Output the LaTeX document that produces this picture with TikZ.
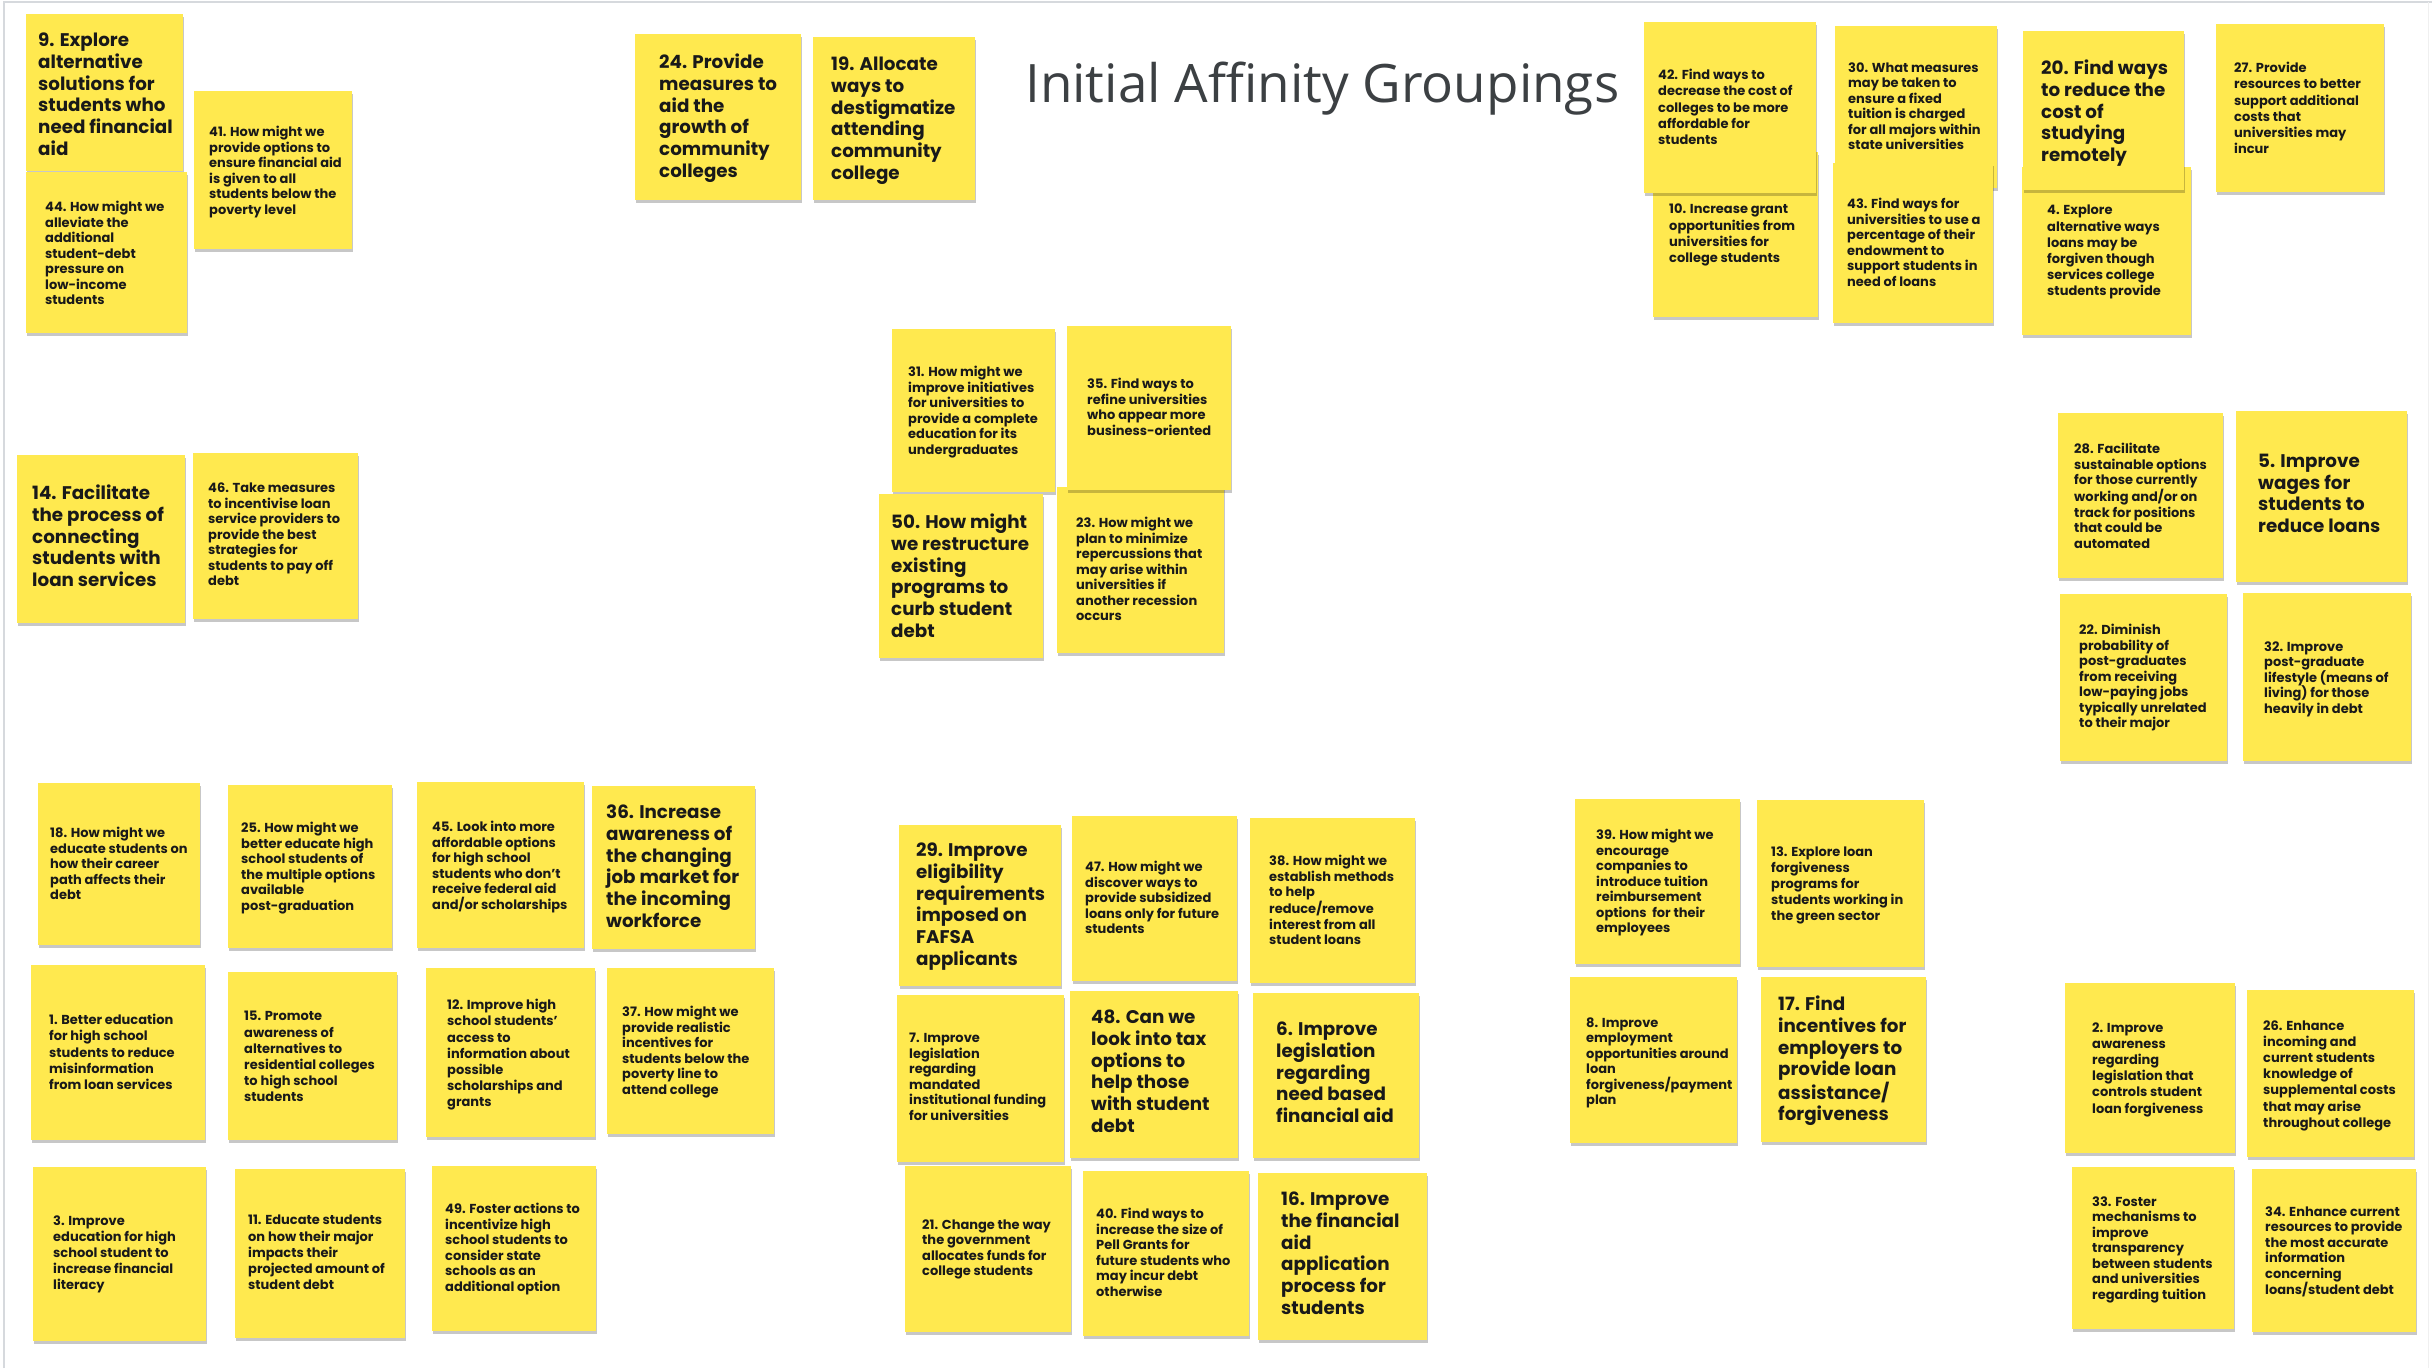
\documentclass[tikz,border=0pt]{standalone}
\usepackage{fontspec}
\setmainfont{Poppins}
\newfontfamily\titlefont{Open Sans}
\usetikzlibrary{shadows}
\definecolor{noteyellow}{HTML}{FFE94F}
\definecolor{titlegray}{HTML}{3C4043}
\definecolor{framegray}{HTML}{D6D9DD}
\tikzset{
 notebox/.style={rectangle, fill=noteyellow, inner sep=0pt, draw=none,
   drop shadow={shadow xshift=0.8pt, shadow yshift=-2.5pt, opacity=0.22, fill=black}},
 stxt/.style={inner sep=0pt, align=left, text=black!90, font=\fontsize{13}{15.5}\selectfont\bfseries, yshift=5.9pt},
 stxtw/.style={stxt, font=\fontsize{13}{16.2}\selectfont\bfseries},
 ltxt/.style={inner sep=0pt, align=left, text=black!90, font=\fontsize{18.3}{21.7}\selectfont\bfseries, yshift=8.2pt},
}
% #1 name, #2 x1, #3 y1, #4 x2, #5 y2, #6 text x, #7 first line centre y, #8 text style, #9 text
\newcommand{\stickynote}[9]{%
  \node[notebox, minimum width={#4-#2}, minimum height={#5-#3}] (#1) at ({(#2+#4)/2},{(#3+#5)/2}) {};
  \node[#8, anchor=north west] (#1t) at (#6,#7) {#9};
}
\begin{document}
\begin{tikzpicture}[x=1pt,y=-1pt]
\useasboundingbox (0,0) rectangle (2432,1368);
\fill[white] (0,0) rectangle (2432,1368);
\draw[framegray, line width=2pt] (4,1368) -- (4,1.5) -- (2432,1.5);
\draw[black!6, line width=1pt] (2428,1.5) -- (2428,1368);

\node[font=\fontsize{53}{60}\selectfont\titlefont, text=titlegray, anchor=base west, inner sep=0pt] (title) at (1025,102) {Initial Affinity Groupings};

% top left
\stickynote{n9}{26}{14}{183}{171}{38}{41}{ltxt}{9. Explore\\alternative\\solutions for\\students who\\need financial\\aid}
\stickynote{n44}{26}{172}{187}{333}{45}{207}{stxt}{44. How might we\\alleviate the\\additional\\student-debt\\pressure on\\low-income\\students}
\stickynote{n41}{194}{91}{352}{249}{209}{132}{stxt}{41. How might we\\provide options to\\ensure financial aid\\is given to all\\students below the\\poverty level}

% top middle
\stickynote{n24}{635}{34}{801}{200}{659}{62}{ltxt}{24. Provide\\measures to\\aid the\\growth of\\community\\colleges}
\stickynote{n19}{813}{37}{975}{200}{831}{65}{ltxt}{19. Allocate\\ways to\\destigmatize\\attending\\community\\college}

% top right
\stickynote{n10}{1653}{152}{1818}{317}{1669}{210}{stxtw}{10. Increase grant\\opportunities from\\universities for\\college students}
\stickynote{n42}{1644}{22}{1816}{193}{1658}{75}{stxtw}{42. Find ways to\\decrease the cost of\\colleges to be more\\affordable for\\students}
\stickynote{n30}{1835}{26}{1997}{188}{1848}{68}{stxt}{30. What measures\\may be taken to\\ensure a fixed\\tuition is charged\\for all majors within\\state universities}
\stickynote{n43}{1833}{163}{1993}{323}{1847}{204}{stxt}{43. Find ways for\\universities to use a\\percentage of their\\endowment to\\support students in\\need of loans}
\stickynote{n4}{2022}{167}{2191}{335}{2047}{211}{stxtw}{4. Explore\\alternative ways\\loans may be\\forgiven though\\services college\\students provide}
\stickynote{n20}{2023}{31}{2184}{190}{2041}{68}{ltxt}{20. Find ways\\to reduce the\\cost of\\studying\\remotely}
\stickynote{n27}{2216}{24}{2384}{192}{2234}{68}{stxtw}{27. Provide\\resources to better\\support additional\\costs that\\universities may\\incur}

% centre
\stickynote{n31}{892}{329}{1055}{492}{908}{372}{stxt}{31. How might we\\improve initiatives\\for universities to\\provide a complete\\education for its\\undergraduates}
\stickynote{n23}{1057}{487}{1224}{653}{1076}{523}{stxt}{23. How might we\\plan to minimize\\repercussions that\\may arise within\\universities if\\another recession\\occurs}
\stickynote{n35}{1067}{326}{1231}{490}{1087}{384}{stxt}{35. Find ways to\\refine universities\\who appear more\\business-oriented}
\stickynote{n50}{879}{494}{1043}{658}{891}{522}{ltxt}{50. How might\\we restructure\\existing\\programs to\\curb student\\debt}

% left middle
\stickynote{n14}{17}{455}{185}{623}{32}{493}{ltxt}{14. Facilitate\\the process of\\connecting\\students with\\loan services}
\stickynote{n46}{193}{453}{358}{619}{208}{489}{stxt}{46. Take measures\\to incentivise loan\\service providers to\\provide the best\\strategies for\\students to pay off\\debt}

% right middle
\stickynote{n28}{2058}{413}{2223}{578}{2074}{449}{stxt}{28. Facilitate\\sustainable options\\for those currently\\working and/or on\\track for positions\\that could be\\automated}
\stickynote{n5}{2236}{411}{2407}{582}{2258}{462}{ltxt}{5. Improve\\wages for\\students to\\reduce loans}
\stickynote{n22}{2060}{594}{2227}{761}{2079}{630}{stxt}{22. Diminish\\probability of\\post-graduates\\from receiving\\low-paying jobs\\typically unrelated\\to their major}
\stickynote{n32}{2243}{593}{2411}{761}{2264}{647}{stxt}{32. Improve\\post-graduate\\lifestyle (means of\\living) for those\\heavily in debt}

% bottom left
\stickynote{n18}{38}{783}{200}{945}{50}{833}{stxt}{18. How might we\\educate students on\\how their career\\path affects their\\debt}
\stickynote{n25}{228}{785}{392}{948}{241}{828}{stxt}{25. How might we\\better educate high\\school students of\\the multiple options\\available\\post-graduation}
\stickynote{n45}{417}{782}{584}{948}{432}{827}{stxt}{45. Look into more\\affordable options\\for high school\\students who don’t\\receive federal aid\\and/or scholarships}
\stickynote{n36}{592}{786}{755}{949}{606}{813}{ltxt}{36. Increase\\awareness of\\the changing\\job market for\\the incoming\\workforce}
\stickynote{n1}{31}{965}{205}{1140}{49}{1020}{stxtw}{1. Better education\\for high school\\students to reduce\\misinformation\\from loan services}
\stickynote{n15}{228}{972}{397}{1140}{244}{1017}{stxtw}{15. Promote\\awareness of\\alternatives to\\residential colleges\\to high school\\students}
\stickynote{n12}{426}{968}{595}{1137}{447}{1005}{stxtw}{12. Improve high\\school students’\\access to\\information about\\possible\\scholarships and\\grants}
\stickynote{n37}{607}{968}{774}{1134}{622}{1012}{stxt}{37. How might we\\provide realistic\\incentives for\\students below the\\poverty line to\\attend college}
\stickynote{n3}{33}{1167}{206}{1341}{53}{1221}{stxtw}{3. Improve\\education for high\\school student to\\increase financial\\literacy}
\stickynote{n11}{235}{1169}{405}{1338}{248}{1221}{stxtw}{11. Educate students\\on how their major\\impacts their\\projected amount of\\student debt}
\stickynote{n49}{432}{1166}{596}{1331}{445}{1209}{stxt}{49. Foster actions to\\incentivize high\\school students to\\consider state\\schools as an\\additional option}

% bottom middle
\stickynote{n29}{899}{825}{1061}{986}{916}{851}{ltxt}{29. Improve\\eligibility\\requirements\\imposed on\\FAFSA\\applicants}
\stickynote{n47}{1072}{816}{1237}{981}{1085}{867}{stxt}{47. How might we\\discover ways to\\provide subsidized\\loans only for future\\students}
\stickynote{n38}{1250}{818}{1415}{983}{1269}{861}{stxt}{38. How might we\\establish methods\\to help\\reduce/remove\\interest from all\\student loans}
\stickynote{n7}{897}{995}{1064}{1162}{909}{1039}{stxt}{7. Improve\\legislation\\regarding\\mandated\\institutional funding\\for universities}
\stickynote{n48}{1070}{991}{1238}{1158}{1091}{1018}{ltxt}{48. Can we\\look into tax\\options to\\help those\\with student\\debt}
\stickynote{n6}{1253}{993}{1419}{1158}{1276}{1030}{ltxt}{6. Improve\\legislation\\regarding\\need based\\financial aid}
\stickynote{n21}{905}{1166}{1071}{1332}{922}{1225}{stxt}{21. Change the way\\the government\\allocates funds for\\college students}
\stickynote{n40}{1083}{1171}{1249}{1336}{1096}{1214}{stxt}{40. Find ways to\\increase the size of\\Pell Grants for\\future students who\\may incur debt\\otherwise}
\stickynote{n16}{1258}{1173}{1427}{1340}{1281}{1200}{ltxt}{16. Improve\\the financial\\aid\\application\\process for\\students}

% bottom right-middle
\stickynote{n39}{1575}{799}{1740}{964}{1596}{835}{stxt}{39. How might we\\encourage\\companies to\\introduce tuition\\reimbursement\\options~ for their\\employees}
\stickynote{n13}{1757}{800}{1924}{967}{1771}{852}{stxtw}{13. Explore loan\\forgiveness\\programs for\\students working in\\the green sector}
\stickynote{n8}{1570}{977}{1737}{1143}{1586}{1023}{stxt}{8. Improve\\employment\\opportunities around\\loan\\forgiveness/payment\\plan}
\stickynote{n17}{1761}{977}{1926}{1142}{1778}{1004}{ltxt}{17. Find\\incentives for\\employers to\\provide loan\\assistance/\\forgiveness}

% bottom right
\stickynote{n2}{2065}{983}{2235}{1153}{2092}{1028}{stxtw}{2. Improve\\awareness\\regarding\\legislation that\\controls student\\loan forgiveness}
\stickynote{n26}{2247}{990}{2414}{1157}{2263}{1026}{stxtw}{26. Enhance\\incoming and\\current students\\knowledge of\\supplemental costs\\that may arise\\throughout college}
\stickynote{n33}{2072}{1167}{2234}{1329}{2092}{1202}{stxt}{33. Foster\\mechanisms to\\improve\\transparency\\between students\\and universities\\regarding tuition}
\stickynote{n34}{2252}{1169}{2416}{1332}{2265}{1212}{stxt}{34. Enhance current\\resources to provide\\the most accurate\\information\\concerning\\loans/student debt}
\end{tikzpicture}
\end{document}
